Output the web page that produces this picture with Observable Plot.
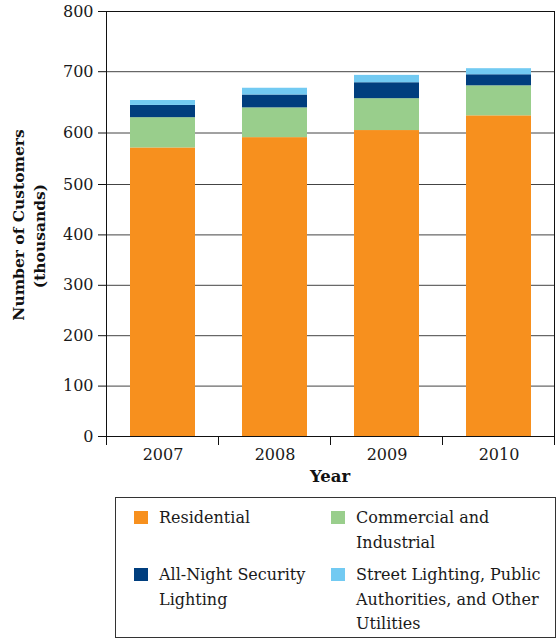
<!DOCTYPE html>
<html><head><meta charset="utf-8">
<script src="https://cdn.jsdelivr.net/npm/d3@7"></script>
<script src="https://cdn.jsdelivr.net/npm/@observablehq/plot@0.6"></script>
<style>
body{margin:0;background:#fff;}
#wrap{position:relative;width:556px;height:640px;overflow:hidden;font-family:"DejaVu Serif",serif;color:#1a1a1a;}
#legend{position:absolute;left:115px;top:497px;width:441px;height:141px;box-sizing:border-box;border:1px solid #333;padding:8px 0 0 18px;display:grid;grid-template-columns:197px 1fr;grid-auto-rows:min-content;row-gap:8px;font-size:16px;line-height:24.5px;}
.item{display:flex;align-items:flex-start;}
.sw{width:14px;height:13px;margin-top:5px;margin-right:11px;flex:none;}
</style></head>
<body><div id="wrap"><div id="chart"></div><div id="legend"></div></div>
<script>
// ---- data ----
const years = ["2007", "2008", "2009", "2010"];
const seriesNames = ["Residential", "Commercial and Industrial", "All-Night Security Lighting", "Street Lighting, Public Authorities, and Other Utilities"];
const legendLines = [["Residential"], ["Commercial and", "Industrial"], ["All-Night Security", "Lighting"], ["Street Lighting, Public", "Authorities, and Other", "Utilities"]];
const colors = ["#F7901E", "#99CE8C", "#003E7E", "#72CAF2"];
const residential = [571, 591, 604, 628];
const commercialIndustrial = [54, 50, 52, 49];
const allNightLighting = [20, 21, 26, 18];
const streetLightingOther = [8, 11, 12, 10];
const yTicks = [0, 100, 200, 300, 400, 500, 600, 700, 800];
const yLabel = ["Number of Customers", "(thousands)"];
const xLabel = "Year";

const seriesValues = [residential, commercialIndustrial, allNightLighting, streetLightingOther];
const rows = [];
years.forEach((yr, i) => seriesNames.forEach((s, k) => rows.push({year: yr, series: s, value: seriesValues[k][i]})));

// the source's vertical axis is not uniform (its upper part is stretched):
// a piecewise-linear transform reproduces that spacing
const warp = d3.scaleLinear().domain([0, 500, 600, 700, 800]).range([0, 252, 303.5, 364.8, 425]);

const chart = Plot.plot({
  width: 556, height: 490,
  marginLeft: 106, marginRight: 2, marginTop: 11, marginBottom: 54,
  style: {fontFamily: "DejaVu Serif", fontSize: "16px", color: "#1a1a1a", background: "transparent"},
  x: {domain: years, paddingInner: 0.42, paddingOuter: 0.21, label: null},
  y: {transform: warp, domain: [warp(0), warp(800)], label: null},
  color: {domain: seriesNames, range: colors},
  marks: [
    Plot.gridY(yTicks, {stroke: "#444", strokeOpacity: 1}),
    Plot.barY(rows, {x: "year", y: "value", fill: "series"}),
    Plot.frame({stroke: "#111"}),
    Plot.axisY(yTicks, {tickSize: 8, tickPadding: 5, label: null, stroke: "#111", tickFormat: d => d}),
    Plot.axisX({tickSize: 0, tickPadding: 12, label: null})
  ]
});
document.getElementById("chart").appendChild(chart);

// boundary ticks on the x axis, computed from the band scale
const xs = chart.scale("x");
const pad = (xs.step - xs.bandwidth) / 2;
const bounds = years.map(y => xs.apply(y) - pad).concat([xs.apply(years[years.length - 1]) + xs.bandwidth + pad]);
const svg = d3.select(chart);
const y0 = xs && 490 - 54;
svg.append("g").selectAll("line").data(bounds).join("line")
  .attr("x1", d => d).attr("x2", d => d).attr("y1", y0).attr("y2", y0 + 9)
  .attr("stroke", "#111");
// axis titles
const g = svg.append("g").attr("font-weight", "bold").attr("fill", "#111").attr("text-anchor", "middle");
g.append("text").attr("transform", "translate(24,225) rotate(-90)").attr("font-size", 15.5).text(yLabel[0]);
g.append("text").attr("transform", "translate(45,236) rotate(-90)").attr("font-size", 15.5).text(yLabel[1]);
g.append("text").attr("x", (xs.range[0] + xs.range[1]) / 2).attr("y", 482).attr("font-size", 16.5).text(xLabel);

// legend
const leg = d3.select("#legend");
seriesNames.forEach((s, k) => {
  const it = leg.append("div").attr("class", "item");
  it.append("div").attr("class", "sw").style("background", colors[k]);
  it.append("div").html(legendLines[k].join("<br>"));
});
</script>
</body></html>
